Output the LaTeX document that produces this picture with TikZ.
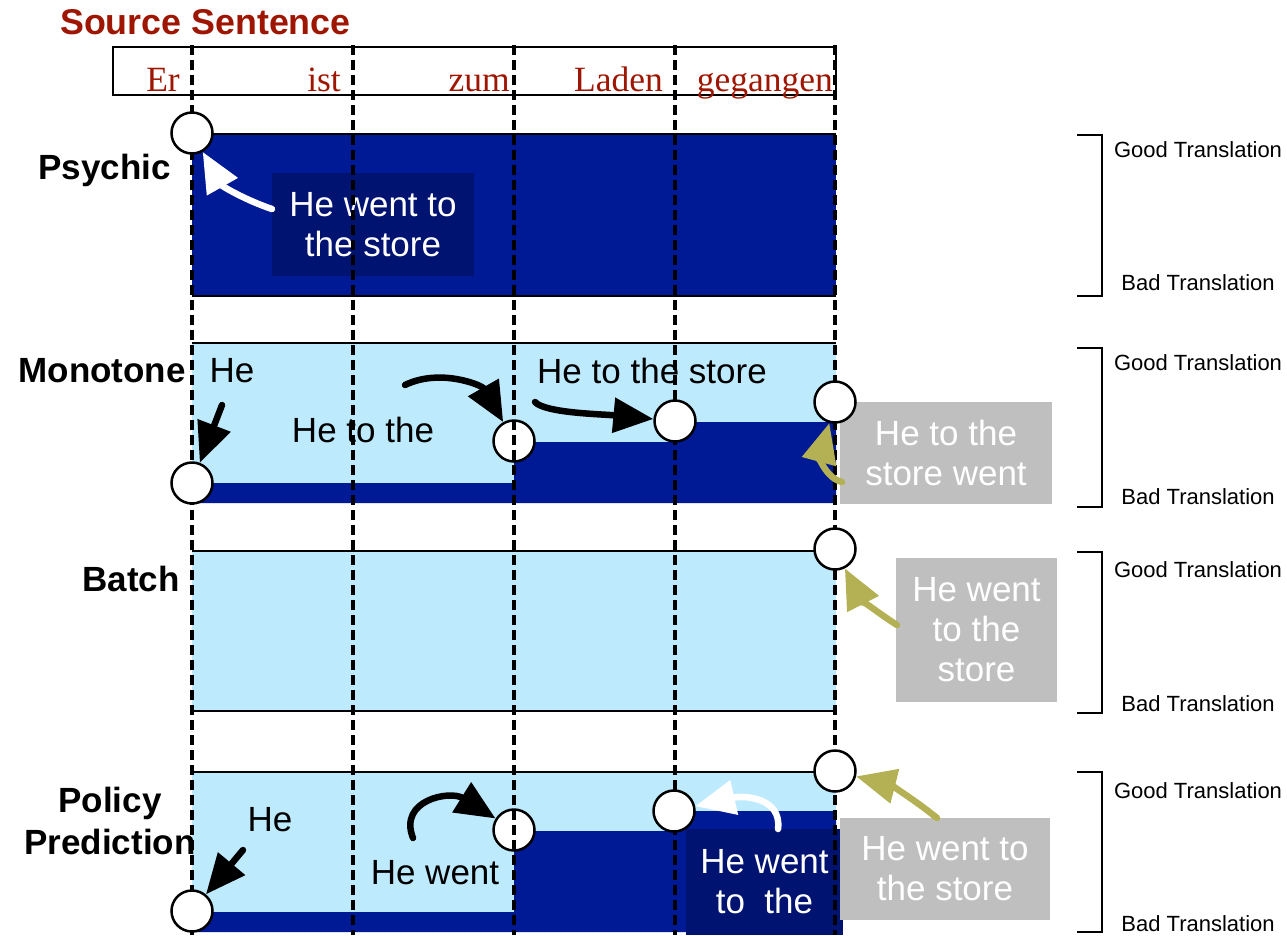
\documentclass[tikz,border=0pt]{standalone}
\usepackage{fontspec}
\setmainfont{Liberation Sans}
\newfontfamily\wordfont{Liberation Serif}
\usetikzlibrary{arrows.meta}
\definecolor{srcred}{RGB}{158,22,2}
\definecolor{deepblue}{RGB}{0,25,148}
\definecolor{paleblue}{RGB}{190,234,253}
\definecolor{navybox}{RGB}{0,19,112}
\definecolor{greybox}{RGB}{191,191,191}
\definecolor{olivearrow}{RGB}{180,177,85}
\begin{document}
\begin{tikzpicture}[x=1pt,y=-1pt,
  word/.style={font=\wordfont\fontsize{35.5}{40}\selectfont, text=srcred, anchor=base east, inner sep=0pt},
  rowlabel/.style={font=\bfseries\fontsize{35}{42}\selectfont, inner sep=0pt, align=center},
  say/.style={font=\fontsize{35}{40}\selectfont, inner sep=0pt, align=center},
  scalelabel/.style={font=\fontsize{22}{26}\selectfont, inner sep=0pt},
  state/.style={circle, draw=black, fill=white, line width=2.5pt, minimum size=41pt, inner sep=0pt},
  colsep/.style={line width=4pt, dash pattern=on 10pt off 5pt},
  panelline/.style={line width=2pt},
  bighead/.style={-{Triangle[length=40pt,width=34pt]}},
  blackarrow/.style={line width=6.5pt, line cap=round, bighead},
  whitearrow/.style={line width=6.5pt, line cap=round, white, bighead},
  olivearr/.style={line width=6.5pt, line cap=round, olivearrow, bighead},
  bracketline/.style={line width=2pt}
]
\useasboundingbox (0,0) rectangle (1287,935);

% ---------- source sentence ----------
\node[font=\bfseries\fontsize{35.8}{40}\selectfont, text=srcred, anchor=west, inner sep=0pt] (srctitle) at (60,22) {Source Sentence};
\draw[panelline] (113,47) rectangle (836,95);
\node[word] (w1) at (180,91) {Er};
\node[word] (w2) at (341,91) {ist};
\node[word] (w3) at (510,91) {zum};
\node[word] (w4) at (663,91) {Laden};
\node[word] (w5) at (833,91) {gegangen};

% ---------- panels ----------
% Psychic
\fill[deepblue] (192,134) rectangle (836,296);
\draw[panelline] (192,134) -- (836,134) (192,296) -- (836,296);
% Monotone
\fill[paleblue] (192,343) rectangle (836,503);
\fill[deepblue] (192,483) -- (514,483) -- (514,442) -- (675,442) -- (675,422) -- (836,422) -- (836,503) -- (192,503) -- cycle;
\draw[panelline] (192,343) -- (836,343);
% Batch
\fill[paleblue] (192,551) rectangle (836,711);
\draw[panelline] (192,551) -- (836,551) (192,711) -- (836,711);
% Policy Prediction
\fill[paleblue] (192,772) rectangle (836,932);
\fill[deepblue] (192,912) -- (514,912) -- (514,831) -- (675,831) -- (675,811) -- (836,811) -- (836,932) -- (192,932) -- cycle;
\draw[panelline] (192,772) -- (836,772);

% ---------- row labels ----------
\node[rowlabel, anchor=east] (lpsy) at (171,170) {Psychic};
\node[rowlabel, anchor=east] (lmono) at (186,371) {Monotone};
\node[rowlabel, anchor=east] (lbatch) at (180,579) {Batch};
\node[rowlabel] (lpol) at (110,821) {Policy\\Prediction};

% ---------- translation boxes ----------
\node[say, fill=navybox, text=white, minimum width=202pt, minimum height=103pt] (psybox) at (373,224.5) {He went to\\the store};
\node[say, fill=greybox, text=white, minimum width=212pt, minimum height=102pt] (monobox) at (946,453) {He to the\\store went};
\node[say, fill=greybox, text=white, minimum width=161pt, minimum height=144pt] (batchbox) at (976.5,630) {He went\\to the\\store};
\node[say, fill=navybox, text=white, minimum width=157pt, minimum height=106pt] (polnavy) at (764.5,882) {He went\\to\ \ the};
\node[say, fill=greybox, text=white, minimum width=210pt, minimum height=102pt] (polgrey) at (945,869) {He went to\\the store};

% ---------- partial translations ----------
\node[say] (mhe) at (232,371) {He};
\node[say] (mhetothe) at (363,430) {He to the};
\node[say] (mstore) at (652,371) {He to the store};
\node[say] (phe) at (270,820) {He};
\node[say] (pwent) at (435,873) {He went};

% ---------- states crossed by the column separators ----------
\node[state] (m3) at (514,441) {};
\node[state] (p3) at (514,830) {};

% ---------- column separators ----------
\foreach \x/\n in {192/a,353/b,514/c,675/d,835/e}
  \draw[colsep] (\x,45) coordinate (top\n) -- (\x,935) coordinate (bot\n);

% ---------- remaining states ----------
\node[state] (s1) at (192,133) {};
\node[state] (m1) at (192,483) {};
\node[state] (m4) at (675,421) {};
\node[state] (m5) at (835,402) {};
\node[state] (b5) at (835,549) {};
\node[state] (p1) at (192,911) {};
\node[state] (p4) at (674,811) {};
\node[state] (p5) at (835,771) {};

% ---------- arrows ----------
\coordinate (st) at (272,209);
\draw[whitearrow] (st) .. controls (245,200) and (222,186) .. (s1);

\coordinate (mt1) at (222,405);
\draw[blackarrow] (mt1) -- (m1);
\coordinate (mt2) at (405,385);
\draw[blackarrow] (mt2) .. controls (440,368) and (482,385) .. (m3);
\coordinate (mt3) at (535,402);
\draw[blackarrow] (mt3) .. controls (545,413) and (600,414) .. (m4);
\coordinate (mt4) at (842,482);
\draw[olivearr] (mt4) .. controls (826,478) and (820,458) .. (m5);

\coordinate (bt) at (897,625);
\draw[olivearr] (bt) .. controls (878,613) and (860,598) .. (b5);

\coordinate (pt1) at (243,850);
\draw[blackarrow] (pt1) -- (p1);
\coordinate (pt2) at (413,838);
\draw[blackarrow] (pt2) .. controls (398,800) and (450,790) .. (p3);
\coordinate (pt4) at (778,829);
\draw[whitearrow] (pt4) .. controls (782,798) and (745,795) .. (p4);
\coordinate (pt5) at (937,818);
\draw[olivearr] (pt5) .. controls (915,800) and (890,785) .. (p5);

% ---------- quality scales ----------
\foreach \t/\b/\g/\d [count=\i] in {135/296/150/283, 348/507/363/497, 552/713/570/704, 772/932/791/924} {
  \draw[bracketline] (1077,\t) -- (1102,\t) -- (1102,\b) -- (1077,\b);
  \node[scalelabel] (good\i) at (1198,\g) {Good Translation};
  \node[scalelabel] (bad\i) at (1198,\d) {Bad Translation};
}
\end{tikzpicture}
\end{document}
